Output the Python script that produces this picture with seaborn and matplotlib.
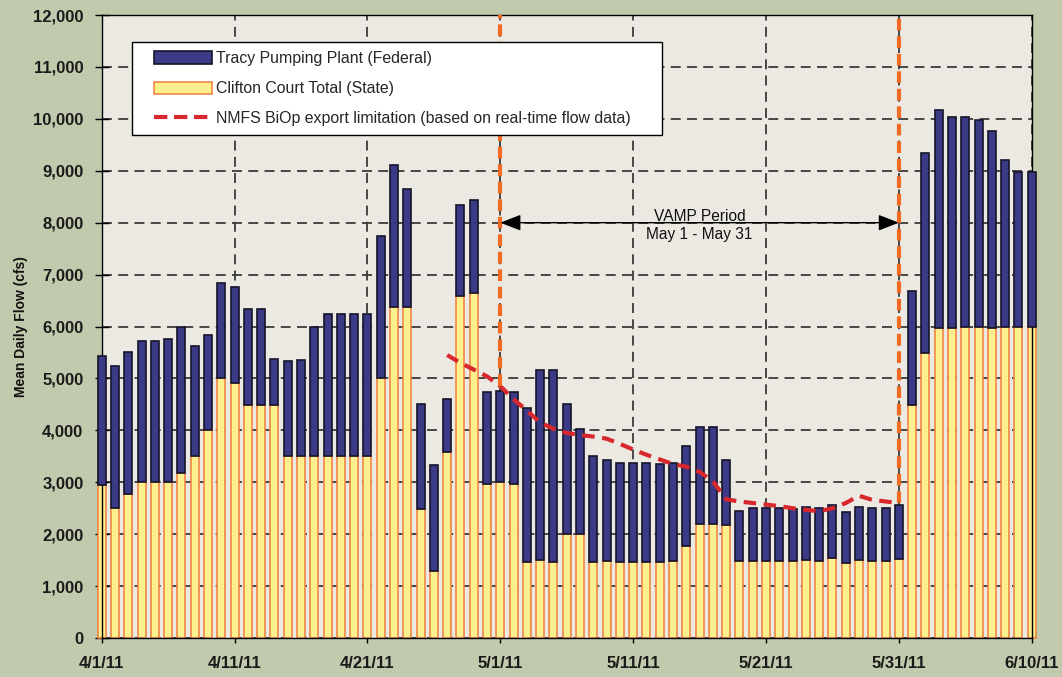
import numpy as np
import pandas as pd
import matplotlib
matplotlib.use("Agg")
import matplotlib.pyplot as plt
import seaborn as sns
from matplotlib.patches import Patch, Rectangle
from matplotlib.lines import Line2D
from matplotlib.ticker import FuncFormatter, MultipleLocator

# ---------------- data ----------------
dates = pd.date_range("2011-04-01", "2011-06-10", freq="D")

state_cfs = [2950, 2500, 2780, 3000, 3000, 3000, 3180, 3500, 4000, 5000,
             4920, 4490, 4490, 4490, 3500, 3500, 3500, 3500, 3500, 3500,
             3500, 5000, 6380, 6380, 2480, 1300, 3580, 6580, 6650, 2970,
             3000, 2970, 1470, 1500, 1470, 2000, 2000, 1470, 1490, 1470,
             1470, 1470, 1470, 1490, 1780, 2190, 2190, 2180, 1480, 1480,
             1480, 1480, 1480, 1500, 1480, 1550, 1450, 1500, 1480, 1480,
             1530, 4490, 5490, 5970, 5970, 5990, 5990, 5970, 5990, 5990,
             5990]

federal_cfs = [2480, 2730, 2730, 2720, 2720, 2760, 2820, 2130, 1840, 1840,
               1840, 1840, 1840, 890, 1830, 1850, 2500, 2750, 2750, 2750,
               2750, 2740, 2740, 2260, 2030, 2030, 1030, 1770, 1780, 1770,
               1760, 1770, 2960, 3670, 3700, 2510, 2020, 2040, 1940, 1910,
               1910, 1910, 1880, 1890, 1910, 1880, 1880, 1250, 970, 1020,
               1020, 1020, 1000, 1030, 1020, 1010, 980, 1030, 1020, 1020,
               1030, 2190, 3850, 4210, 4070, 4040, 3990, 3800, 3210, 2990,
               2990]

nmfs_dates = pd.date_range("2011-04-27", "2011-05-31", freq="D")
nmfs_cfs = [5450, 5300, 5170, 5040, 4850, 4600, 4380, 4150, 4030, 3950,
            3910, 3880, 3840, 3740, 3630, 3530, 3440, 3350, 3300, 3200,
            3020, 2670, 2630, 2600, 2570, 2540, 2500, 2470, 2440, 2500,
            2600, 2740, 2660, 2630, 2600]

vamp_dates = pd.to_datetime(["2011-05-01", "2011-05-31"])
vamp_text = "VAMP Period\nMay 1 - May 31"
vamp_level = 8000

tick_dates = pd.to_datetime(["2011-04-01", "2011-04-11", "2011-04-21", "2011-05-01",
                             "2011-05-11", "2011-05-21", "2011-05-31", "2011-06-10"])
tick_labels = ["4/1/11", "4/11/11", "4/21/11", "5/1/11",
               "5/11/11", "5/21/11", "5/31/11", "6/10/11"]

series_names = ["Tracy Pumping Plant (Federal)", "Clifton Court Total (State)",
                "NMFS BiOp export limitation (based on real-time flow data)"]
y_label = "Mean Daily Flow (cfs)"

# ---------------- style ----------------
OUTER_BG = "#c2caad"
PLOT_BG = "#ece9e2"
NAVY = "#3b3a86"
YELLOW = "#fcef8e"
ORANGE_EDGE = "#ef7f3c"
RED = "#d8272d"
VORANGE = "#f26b22"

sns.set_theme(style="ticks")
plt.rcParams["font.family"] = ["Liberation Sans", "DejaVu Sans"]

t0 = dates[0]
day_of = lambda d: (pd.DatetimeIndex(d) - t0).days.values

df = pd.DataFrame({"day": day_of(dates), "state": state_cfs, "federal": federal_cfs})
nm = pd.DataFrame({"day": day_of(nmfs_dates), "nmfs": nmfs_cfs})

fig = plt.figure(figsize=(10.62, 6.77), dpi=100, facecolor=OUTER_BG)
ax = fig.add_axes([0.0958, 0.0576, 0.8757, 0.9202])
ax.set_facecolor(PLOT_BG)

# bars
sns.barplot(data=df, x="day", y="state", native_scale=True, width=0.6,
            color=YELLOW, saturation=1, edgecolor=ORANGE_EDGE, linewidth=1.1,
            errorbar=None, ax=ax, zorder=2)
sns.barplot(data=df, x="day", y="federal", bottom=df["state"].values,
            native_scale=True, width=0.6, color=NAVY, saturation=1,
            edgecolor="#15152a", linewidth=1.2, errorbar=None, ax=ax, zorder=3)
for p in ax.patches:
    p.set_clip_on(False)

# NMFS line
sns.lineplot(data=nm, x="day", y="nmfs", color=RED, linewidth=3.0,
             ax=ax, zorder=5, errorbar=None)
ax.lines[-1].set_dashes((3.0, 1.8))
ax.lines[-1].set_solid_capstyle("butt")

# VAMP vertical lines (from NMFS line to top)
vdays = day_of(vamp_dates)
vmins = [nm.set_index("day").loc[d, "nmfs"] for d in vdays]
ax.vlines(vdays, vmins, 12000, colors=VORANGE, linewidth=3.0,
          linestyles=(0, (2.8, 1.4)), zorder=6)

# VAMP arrow + text
ax.annotate("", xy=(vdays[0], vamp_level), xytext=(vdays[1], vamp_level),
            arrowprops=dict(arrowstyle="<|-|>,head_length=0.9,head_width=0.35",
                            color="black", lw=1.0, shrinkA=0, shrinkB=0,
                            mutation_scale=14), zorder=7)
ax.text((vdays[0] + vdays[1]) / 2, vamp_level - 60, vamp_text, ha="center", va="center",
        fontsize=11.2, color="#111111", linespacing=1.25, zorder=8)

# axes
ax.set_xlim(0, 70)
ax.set_ylim(0, 12000)
ax.set_xticks(day_of(tick_dates))
ax.set_xticklabels(tick_labels)
ax.yaxis.set_major_locator(MultipleLocator(1000))
ax.yaxis.set_major_formatter(FuncFormatter(lambda v, p: f"{v:,.0f}"))
ax.set_xlabel("")
ax.set_ylabel(y_label, fontsize=10, fontweight="bold", color="#111111", va="center")
ax.yaxis.set_label_coords(-0.087, 0.5)

ax.tick_params(axis="x", direction="out", length=3.6, width=1, color="black",
               pad=9.5, labelsize=12, labelcolor="#1a1a1a")
ax.tick_params(axis="y", direction="inout", length=9.6, width=1, color="black",
               pad=8.4, labelsize=12, labelcolor="#1a1a1a")
for lab in ax.get_xticklabels() + ax.get_yticklabels():
    lab.set_fontweight("bold")

ax.set_axisbelow(True)
ax.grid(True, axis="both", color="#3a3a3a", linewidth=1.3,
        linestyle=(0, (5.5, 3.5)))
for s in ax.spines.values():
    s.set_visible(True)
    s.set_color("black")
    s.set_linewidth(1.0)

# legend box (frame drawn separately so padding matches the reference)
ax.add_patch(Rectangle((0.0326, 0.8074), 0.5699, 0.1493, transform=ax.transAxes,
                       facecolor="white", edgecolor="black", linewidth=1.0,
                       zorder=9, clip_on=False))
handles = [
    Patch(facecolor=NAVY, edgecolor="#15152a", linewidth=1.2),
    Patch(facecolor=YELLOW, edgecolor=ORANGE_EDGE, linewidth=1.1),
    Line2D([], [], color=RED, linewidth=3.0, dashes=(3.2, 1.6)),
]
leg = ax.legend(handles, series_names, loc="upper left",
                bbox_to_anchor=(0.0562, 0.9422), borderaxespad=0, frameon=False,
                fontsize=11.4, handlelength=3.65, handleheight=0.8,
                handletextpad=0.25, labelspacing=0.95, borderpad=0)
leg.set_zorder(10)

fig.savefig("out.png", dpi=100, facecolor=OUTER_BG)
